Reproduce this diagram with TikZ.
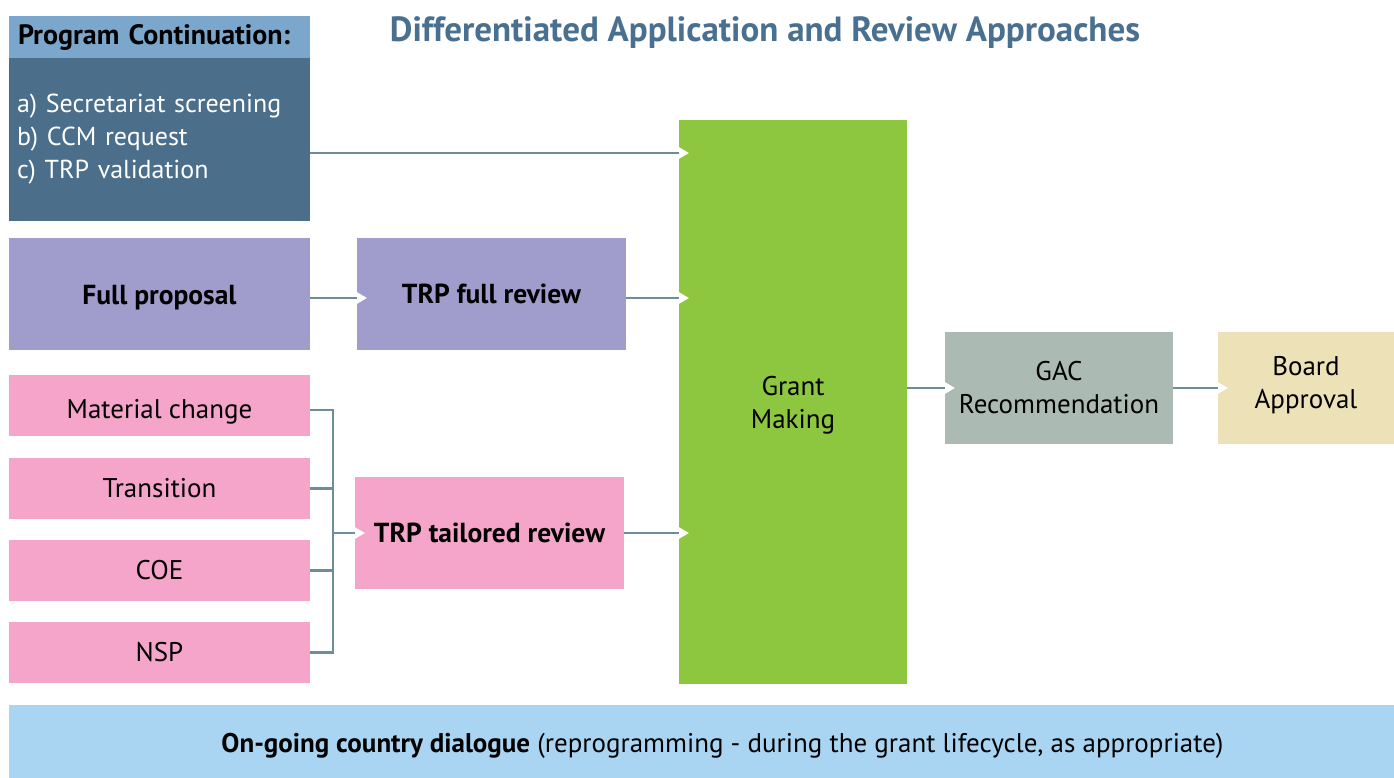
\documentclass[tikz,border=0pt]{standalone}
\usepackage{fontspec}
\setmainfont{PT Sans}
\usetikzlibrary{arrows.meta,calc}
\definecolor{pchead}{HTML}{7BA7CC}
\definecolor{pcbody}{HTML}{4B6E8A}
\definecolor{purp}{HTML}{A09DCD}
\definecolor{pinkb}{HTML}{F4A5C9}
\definecolor{greenb}{HTML}{8DC63F}
\definecolor{gacb}{HTML}{ABBAB3}
\definecolor{boardb}{HTML}{EDE1B8}
\definecolor{bottomb}{HTML}{A9D5F2}
\definecolor{titlec}{HTML}{4A7091}
\definecolor{linec}{HTML}{6E8D9A}
\begin{document}
\begin{tikzpicture}[x=1pt,y=-1pt,
  box/.style={rectangle, inner sep=0pt, outer sep=0pt, align=center, text=black},
  lbl/.style={inner sep=0pt, align=center, text=black},
  reg/.style={font=\fontsize{27}{33}\selectfont},
  bld/.style={font=\bfseries\fontsize{27.5}{33}\selectfont},
  conn/.style={draw=linec, line width=2.2pt, -{Triangle[length=10pt,width=11pt,color=white]}},
  plain/.style={draw=linec, line width=2.2pt}]
\useasboundingbox (0,0) rectangle (1394,778);
% title
\node[font=\bfseries\fontsize{35}{38}\selectfont, text=titlec] (title) at (765,33) {Differentiated Application and Review Approaches};
% program continuation
\node[box, fill=pchead, anchor=north west, minimum width=301pt, minimum height=42pt, inner xsep=9pt, text width=283pt, align=left, font=\bfseries\fontsize{28}{30}\selectfont] (pchead) at (9,16) {Program Continuation:};
\node[box, fill=pcbody, anchor=north west, minimum width=301pt, minimum height=163pt, inner xsep=8pt, text width=285pt, align=left, text=white, font=\fontsize{26}{33}\selectfont] (pcbody) at (9,58) {a) Secretariat screening\\b) CCM request\\c) TRP validation};
% full proposal
\node[box, fill=purp, minimum width=301pt, minimum height=112pt] (fp) at (159.5,294) {};
\node[lbl, bld] (fpt) at ([yshift=-4pt]fp.center) {Full proposal};
\node[box, fill=purp, bld, minimum width=269pt, minimum height=112pt] (trpf) at (491.5,294) {TRP full review};
% pink boxes
\node[box, fill=pinkb, minimum width=301pt, minimum height=61pt] (mc) at (159.5,405.5) {};
\node[lbl, reg] (mct) at ([yshift=-6pt]mc.center) {Material change};
\node[box, fill=pinkb, reg, minimum width=301pt, minimum height=61pt] (tr) at (159.5,488.5) {Transition};
\node[box, fill=pinkb, reg, minimum width=301pt, minimum height=61pt] (coe) at (159.5,570.5) {COE};
\node[box, fill=pinkb, reg, minimum width=301pt, minimum height=61pt] (nsp) at (159.5,652.5) {NSP};
\node[box, fill=pinkb, bld, minimum width=269pt, minimum height=112pt] (trpt) at (489.5,533) {TRP tailored review};
% grant making
\node[box, fill=greenb, minimum width=228pt, minimum height=564pt] (gm) at (793,402) {};
\node[lbl, reg] (gmt) at ([yshift=-3pt]gm.center) {Grant\\Making};
\node[box, fill=gacb, reg, minimum width=228pt, minimum height=112pt] (gac) at (1059,388) {GAC\\Recommendation};
\node[box, fill=boardb, minimum width=176pt, minimum height=112pt] (board) at (1306,388) {};
\node[lbl, reg] (boardt) at ([yshift=3pt]board.center) {Board\\Approval};
% bottom bar
\node[box, fill=bottomb, anchor=north west, minimum width=1385pt, minimum height=73pt] (dlg) at (9,705) {};
\node[lbl, font=\fontsize{27}{30}\selectfont] (dlgt) at ([xshift=21pt,yshift=-4pt]dlg.center) {\textbf{On-going country dialogue} (reprogramming - during the grant lifecycle, as appropriate)};
% connectors
\coordinate (pcout) at ([yshift=-13.5pt]pcbody.east);
\coordinate (fpout) at ([yshift=-4pt]fp.east);
\coordinate (trpfout) at ([yshift=-4pt]trpf.east);
\coordinate (mcout) at ([yshift=-4.5pt]mc.east);
\coordinate (br) at (333,533);
\draw[conn] (pcout) -- ([xshift=10pt]gm.west |- pcout);
\draw[conn] (fpout) -- ([xshift=10pt]trpf.west |- fpout);
\draw[conn] (trpfout) -- ([xshift=10pt]gm.west |- trpfout);
\draw[plain] (mcout) -| (br |- nsp.east) -- (nsp.east);
\draw[plain] (tr.east) -- (br |- tr.east);
\draw[plain] (coe.east) -- (br |- coe.east);
\draw[conn] (br) -- ([xshift=10pt]trpt.west);
\draw[conn] (trpt.east) -- ([xshift=10pt]gm.west |- trpt.east);
\draw[conn] (gm.east |- gac.west) -- ([xshift=10pt]gac.west);
\draw[conn] (gac.east) -- ([xshift=10pt]board.west);
\end{tikzpicture}
\end{document}
